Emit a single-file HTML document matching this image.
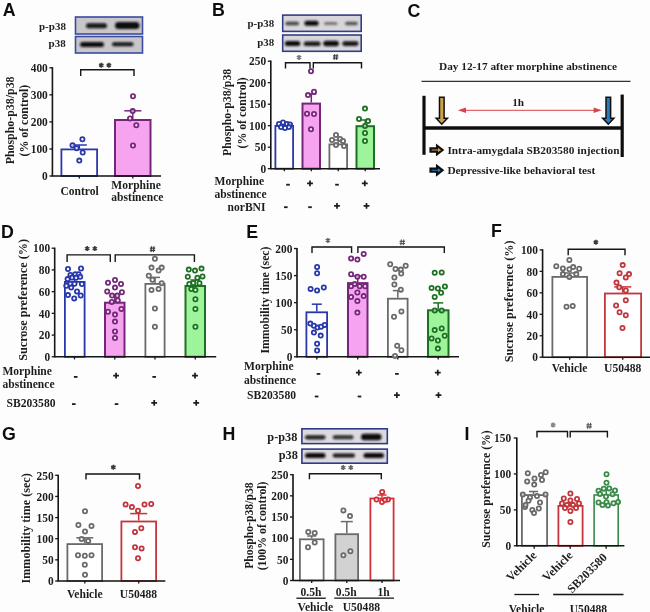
<!DOCTYPE html><html><head><meta charset="utf-8"><style>html,body{margin:0;padding:0;background:#fdfdfd;}svg{display:block;}</style></head><body>
<svg width="650" height="612" viewBox="0 0 650 612">
<defs><filter id="bl" x="-20%" y="-60%" width="140%" height="220%"><feGaussianBlur stdDeviation="1.0"/></filter><filter id="bl2"><feGaussianBlur stdDeviation="0.5"/></filter></defs>
<rect width="650" height="612" fill="#fdfdfd"/>
<g filter="url(#bl2)">
<text x="2.7" y="16.4" font-size="17.8" text-anchor="start" style="font-family:'Liberation Sans',sans-serif;font-weight:bold" fill="#111">A</text>
<rect x="75.5" y="17" width="67.0" height="17" fill="#c9c6ca" stroke="#3a4aa0" stroke-width="1.6"/>
<rect x="86" y="23.2" width="21" height="5" rx="2.5" fill="#0a0a0a" fill-opacity="0.95" filter="url(#bl)"/>
<rect x="115" y="21.9" width="24.5" height="7" rx="3.5" fill="#0a0a0a" fill-opacity="1" filter="url(#bl)"/>
<rect x="75.5" y="36.5" width="67.0" height="16.5" fill="#c9c6ca" stroke="#3a4aa0" stroke-width="1.6"/>
<rect x="80" y="42.1" width="24" height="5" rx="2.5" fill="#0a0a0a" fill-opacity="1" filter="url(#bl)"/>
<rect x="112" y="42.2" width="21.5" height="4" rx="2.0" fill="#0a0a0a" fill-opacity="0.95" filter="url(#bl)"/>
<text x="65.9" y="30" font-size="11.0" text-anchor="end" style="font-family:'Liberation Serif',serif;font-weight:bold" fill="#1e1e1e">p-p38</text>
<text x="65.7" y="47.4" font-size="11.0" text-anchor="end" style="font-family:'Liberation Serif',serif;font-weight:bold" fill="#1e1e1e">p38</text>
<line x1="52.4" y1="67.2" x2="52.4" y2="176.6" stroke="#141414" stroke-width="1.6"/>
<line x1="49.4" y1="176.0" x2="52.4" y2="176.0" stroke="#141414" stroke-width="1.3"/>
<text x="0" y="0" font-size="11.4" text-anchor="end" style="font-family:'Liberation Serif',serif;font-weight:bold" fill="#1e1e1e" transform="translate(47.8 180.28) scale(1 1.12)">0</text>
<line x1="49.4" y1="148.95" x2="52.4" y2="148.95" stroke="#141414" stroke-width="1.3"/>
<text x="0" y="0" font-size="11.4" text-anchor="end" style="font-family:'Liberation Serif',serif;font-weight:bold" fill="#1e1e1e" transform="translate(47.8 153.23) scale(1 1.12)">100</text>
<line x1="49.4" y1="121.9" x2="52.4" y2="121.9" stroke="#141414" stroke-width="1.3"/>
<text x="0" y="0" font-size="11.4" text-anchor="end" style="font-family:'Liberation Serif',serif;font-weight:bold" fill="#1e1e1e" transform="translate(47.8 126.18) scale(1 1.12)">200</text>
<line x1="49.4" y1="94.85" x2="52.4" y2="94.85" stroke="#141414" stroke-width="1.3"/>
<text x="0" y="0" font-size="11.4" text-anchor="end" style="font-family:'Liberation Serif',serif;font-weight:bold" fill="#1e1e1e" transform="translate(47.8 99.13) scale(1 1.12)">300</text>
<line x1="49.4" y1="67.8" x2="52.4" y2="67.8" stroke="#141414" stroke-width="1.3"/>
<text x="0" y="0" font-size="11.4" text-anchor="end" style="font-family:'Liberation Serif',serif;font-weight:bold" fill="#1e1e1e" transform="translate(47.8 72.08) scale(1 1.12)">400</text>
<rect x="61.4" y="149.4" width="35.7" height="26.6" fill="#fff" stroke="#2838aa" stroke-width="1.8"/>
<rect x="115.0" y="120.0" width="35.5" height="56.0" fill="#f6a3f0" stroke="#74287a" stroke-width="2"/>
<line x1="52.4" y1="176.0" x2="161" y2="176.0" stroke="#141414" stroke-width="1.6"/>
<line x1="79.3" y1="176.0" x2="79.3" y2="178.6" stroke="#141414" stroke-width="1.3"/>
<line x1="132.8" y1="176.0" x2="132.8" y2="178.6" stroke="#141414" stroke-width="1.3"/>
<line x1="79.3" y1="148.5" x2="79.3" y2="145" stroke="#2838aa" stroke-width="1.5"/>
<line x1="71.8" y1="145" x2="86.8" y2="145" stroke="#2838aa" stroke-width="1.5"/>
<line x1="132.8" y1="119" x2="132.8" y2="110.8" stroke="#74287a" stroke-width="1.5"/>
<line x1="124.30000000000001" y1="110.8" x2="141.3" y2="110.8" stroke="#74287a" stroke-width="1.5"/>
<circle cx="82.4" cy="139.2" r="2.1" fill="#fff" fill-opacity="0.6" stroke="#2838aa" stroke-width="1.8"/>
<circle cx="72.5" cy="145.3" r="2.1" fill="#fff" fill-opacity="0.6" stroke="#2838aa" stroke-width="1.8"/>
<circle cx="76.6" cy="148.2" r="2.1" fill="#fff" fill-opacity="0.6" stroke="#2838aa" stroke-width="1.8"/>
<circle cx="82.7" cy="152.5" r="2.1" fill="#fff" fill-opacity="0.6" stroke="#2838aa" stroke-width="1.8"/>
<circle cx="79.3" cy="160.6" r="2.1" fill="#fff" fill-opacity="0.6" stroke="#2838aa" stroke-width="1.8"/>
<circle cx="132.7" cy="111.1" r="2.1" fill="#fff" fill-opacity="0.6" stroke="#74287a" stroke-width="1.8"/>
<circle cx="130" cy="118.5" r="2.1" fill="#fff" fill-opacity="0.6" stroke="#74287a" stroke-width="1.8"/>
<circle cx="136.3" cy="125.2" r="2.1" fill="#fff" fill-opacity="0.6" stroke="#74287a" stroke-width="1.8"/>
<circle cx="133" cy="145.5" r="2.1" fill="#fff" fill-opacity="0.6" stroke="#74287a" stroke-width="1.8"/>
<circle cx="133" cy="96.2" r="2.1" fill="#fff" fill-opacity="0.6" stroke="#74287a" stroke-width="1.8"/>
<path d="M80.7 76 V69.8 H134 V76" fill="none" stroke="#141414" stroke-width="1.4"/>
<path d="M101.30 62.70 L101.30 67.70 M99.13 63.95 L103.47 66.45 M103.47 63.95 L99.13 66.45 " stroke="#3a3a3a" stroke-width="1.6" fill="none"/>
<path d="M108.90 62.70 L108.90 67.70 M106.73 63.95 L111.07 66.45 M111.07 63.95 L106.73 66.45 " stroke="#3a3a3a" stroke-width="1.6" fill="none"/>
<text x="14.06" y="120.4" font-size="11.9" text-anchor="middle" style="font-family:'Liberation Serif',serif;font-weight:bold" fill="#1e1e1e" transform="rotate(-90 14.06 120.4)">Phospho-p38/p38</text>
<text x="28.46" y="120.7" font-size="11.9" text-anchor="middle" style="font-family:'Liberation Serif',serif;font-weight:bold" fill="#1e1e1e" transform="rotate(-90 28.46 120.7)">(% of control)</text>
<text x="0" y="0" font-size="11.6" text-anchor="middle" style="font-family:'Liberation Serif',serif;font-weight:bold" fill="#1e1e1e" transform="translate(79.6 195) scale(1 1.12)">Control</text>
<text x="0" y="0" font-size="11.6" text-anchor="start" style="font-family:'Liberation Serif',serif;font-weight:bold" fill="#1e1e1e" transform="translate(111.3 188.5) scale(1 1.12)">Morphine</text>
<text x="0" y="0" font-size="11.6" text-anchor="start" style="font-family:'Liberation Serif',serif;font-weight:bold" fill="#1e1e1e" transform="translate(111.3 201) scale(1 1.12)">abstinence</text>
<text x="212" y="16.4" font-size="17.8" text-anchor="start" style="font-family:'Liberation Sans',sans-serif;font-weight:bold" fill="#111">B</text>
<rect x="282.7" y="15.1" width="78.5" height="16.299999999999997" fill="#d8d6da" stroke="#323e88" stroke-width="1.6"/>
<rect x="285.4" y="21.7" width="13.600000000000023" height="3.6" rx="1.8" fill="#0a0a0a" fill-opacity="0.75" filter="url(#bl)"/>
<rect x="304.4" y="20.8" width="14.200000000000045" height="5" rx="2.5" fill="#0a0a0a" fill-opacity="1" filter="url(#bl)"/>
<rect x="324" y="22.1" width="13.5" height="3" rx="1.5" fill="#0a0a0a" fill-opacity="0.45" filter="url(#bl)"/>
<rect x="345" y="21.85" width="12.800000000000011" height="3.5" rx="1.75" fill="#0a0a0a" fill-opacity="0.6" filter="url(#bl)"/>
<rect x="282.7" y="35" width="78.5" height="16.299999999999997" fill="#d8d6da" stroke="#323e88" stroke-width="1.6"/>
<rect x="284.8" y="41.1" width="15.5" height="5" rx="2.5" fill="#0a0a0a" fill-opacity="1" filter="url(#bl)"/>
<rect x="303.7" y="41.55" width="16.900000000000034" height="4.5" rx="2.25" fill="#0a0a0a" fill-opacity="0.95" filter="url(#bl)"/>
<rect x="323.3" y="40.85" width="15.599999999999966" height="5.5" rx="2.75" fill="#0a0a0a" fill-opacity="1" filter="url(#bl)"/>
<rect x="342.3" y="41.300000000000004" width="16.19999999999999" height="4.6" rx="2.3" fill="#0a0a0a" fill-opacity="0.95" filter="url(#bl)"/>
<text x="274.1" y="27.1" font-size="10.9" text-anchor="end" style="font-family:'Liberation Serif',serif;font-weight:bold" fill="#1e1e1e">p-p38</text>
<text x="274.1" y="45.5" font-size="10.9" text-anchor="end" style="font-family:'Liberation Serif',serif;font-weight:bold" fill="#1e1e1e">p38</text>
<line x1="270.8" y1="60.59999999999999" x2="270.8" y2="169.29999999999998" stroke="#141414" stroke-width="1.6"/>
<line x1="267.8" y1="168.7" x2="270.8" y2="168.7" stroke="#141414" stroke-width="1.3"/>
<text x="0" y="0" font-size="11.4" text-anchor="end" style="font-family:'Liberation Serif',serif;font-weight:bold" fill="#1e1e1e" transform="translate(266.2 172.98) scale(1 1.12)">0</text>
<line x1="267.8" y1="147.2" x2="270.8" y2="147.2" stroke="#141414" stroke-width="1.3"/>
<text x="0" y="0" font-size="11.4" text-anchor="end" style="font-family:'Liberation Serif',serif;font-weight:bold" fill="#1e1e1e" transform="translate(266.2 151.48) scale(1 1.12)">50</text>
<line x1="267.8" y1="125.69999999999999" x2="270.8" y2="125.69999999999999" stroke="#141414" stroke-width="1.3"/>
<text x="0" y="0" font-size="11.4" text-anchor="end" style="font-family:'Liberation Serif',serif;font-weight:bold" fill="#1e1e1e" transform="translate(266.2 129.98) scale(1 1.12)">100</text>
<line x1="267.8" y1="104.19999999999999" x2="270.8" y2="104.19999999999999" stroke="#141414" stroke-width="1.3"/>
<text x="0" y="0" font-size="11.4" text-anchor="end" style="font-family:'Liberation Serif',serif;font-weight:bold" fill="#1e1e1e" transform="translate(266.2 108.48) scale(1 1.12)">150</text>
<line x1="267.8" y1="82.69999999999999" x2="270.8" y2="82.69999999999999" stroke="#141414" stroke-width="1.3"/>
<text x="0" y="0" font-size="11.4" text-anchor="end" style="font-family:'Liberation Serif',serif;font-weight:bold" fill="#1e1e1e" transform="translate(266.2 86.98) scale(1 1.12)">200</text>
<line x1="267.8" y1="61.19999999999999" x2="270.8" y2="61.19999999999999" stroke="#141414" stroke-width="1.3"/>
<text x="0" y="0" font-size="11.4" text-anchor="end" style="font-family:'Liberation Serif',serif;font-weight:bold" fill="#1e1e1e" transform="translate(266.2 65.48) scale(1 1.12)">250</text>
<rect x="275.4" y="125.9" width="17.7" height="42.79999999999999" fill="#fff" stroke="#2838aa" stroke-width="1.8"/>
<rect x="302.5" y="103.6" width="17.5" height="65.1" fill="#f6a3f0" stroke="#74287a" stroke-width="2"/>
<rect x="329.4" y="144.4" width="17.7" height="24.29999999999999" fill="#fff" stroke="#6a6a6a" stroke-width="1.8"/>
<rect x="356.5" y="126.2" width="17.5" height="42.499999999999986" fill="#9ef49a" stroke="#1f7022" stroke-width="2"/>
<line x1="270.8" y1="168.7" x2="380" y2="168.7" stroke="#141414" stroke-width="1.6"/>
<line x1="284.3" y1="168.7" x2="284.3" y2="171.29999999999998" stroke="#141414" stroke-width="1.3"/>
<line x1="311.3" y1="168.7" x2="311.3" y2="171.29999999999998" stroke="#141414" stroke-width="1.3"/>
<line x1="338.2" y1="168.7" x2="338.2" y2="171.29999999999998" stroke="#141414" stroke-width="1.3"/>
<line x1="365.2" y1="168.7" x2="365.2" y2="171.29999999999998" stroke="#141414" stroke-width="1.3"/>
<line x1="311.3" y1="102.6" x2="311.3" y2="94" stroke="#74287a" stroke-width="1.5"/>
<line x1="306.3" y1="94" x2="316.3" y2="94" stroke="#74287a" stroke-width="1.5"/>
<line x1="338.2" y1="143.5" x2="338.2" y2="140" stroke="#6a6a6a" stroke-width="1.5"/>
<line x1="333.7" y1="140" x2="342.7" y2="140" stroke="#6a6a6a" stroke-width="1.5"/>
<line x1="365.2" y1="125.2" x2="365.2" y2="120" stroke="#1f7022" stroke-width="1.5"/>
<line x1="360.2" y1="120" x2="370.2" y2="120" stroke="#1f7022" stroke-width="1.5"/>
<circle cx="279" cy="124" r="2.1" fill="#fff" fill-opacity="0.6" stroke="#2838aa" stroke-width="1.8"/>
<circle cx="283" cy="122.5" r="2.1" fill="#fff" fill-opacity="0.6" stroke="#2838aa" stroke-width="1.8"/>
<circle cx="287" cy="124" r="2.1" fill="#fff" fill-opacity="0.6" stroke="#2838aa" stroke-width="1.8"/>
<circle cx="290" cy="124.5" r="2.1" fill="#fff" fill-opacity="0.6" stroke="#2838aa" stroke-width="1.8"/>
<circle cx="281" cy="127" r="2.1" fill="#fff" fill-opacity="0.6" stroke="#2838aa" stroke-width="1.8"/>
<circle cx="285" cy="128" r="2.1" fill="#fff" fill-opacity="0.6" stroke="#2838aa" stroke-width="1.8"/>
<circle cx="289" cy="127" r="2.1" fill="#fff" fill-opacity="0.6" stroke="#2838aa" stroke-width="1.8"/>
<circle cx="311" cy="71.2" r="2.1" fill="#fff" fill-opacity="0.6" stroke="#74287a" stroke-width="1.8"/>
<circle cx="308" cy="95" r="2.1" fill="#fff" fill-opacity="0.6" stroke="#74287a" stroke-width="1.8"/>
<circle cx="314" cy="91.7" r="2.1" fill="#fff" fill-opacity="0.6" stroke="#74287a" stroke-width="1.8"/>
<circle cx="307" cy="113.7" r="2.1" fill="#fff" fill-opacity="0.6" stroke="#74287a" stroke-width="1.8"/>
<circle cx="314" cy="114" r="2.1" fill="#fff" fill-opacity="0.6" stroke="#74287a" stroke-width="1.8"/>
<circle cx="311" cy="129.2" r="2.1" fill="#fff" fill-opacity="0.6" stroke="#74287a" stroke-width="1.8"/>
<circle cx="336" cy="135" r="2.1" fill="#fff" fill-opacity="0.6" stroke="#6a6a6a" stroke-width="1.8"/>
<circle cx="332" cy="140" r="2.1" fill="#fff" fill-opacity="0.6" stroke="#6a6a6a" stroke-width="1.8"/>
<circle cx="340" cy="139" r="2.1" fill="#fff" fill-opacity="0.6" stroke="#6a6a6a" stroke-width="1.8"/>
<circle cx="343" cy="141" r="2.1" fill="#fff" fill-opacity="0.6" stroke="#6a6a6a" stroke-width="1.8"/>
<circle cx="336" cy="145" r="2.1" fill="#fff" fill-opacity="0.6" stroke="#6a6a6a" stroke-width="1.8"/>
<circle cx="344" cy="146" r="2.1" fill="#fff" fill-opacity="0.6" stroke="#6a6a6a" stroke-width="1.8"/>
<circle cx="365" cy="108.6" r="2.1" fill="#fff" fill-opacity="0.6" stroke="#1f7022" stroke-width="1.8"/>
<circle cx="359" cy="119" r="2.1" fill="#fff" fill-opacity="0.6" stroke="#1f7022" stroke-width="1.8"/>
<circle cx="368" cy="121" r="2.1" fill="#fff" fill-opacity="0.6" stroke="#1f7022" stroke-width="1.8"/>
<circle cx="365" cy="126" r="2.1" fill="#fff" fill-opacity="0.6" stroke="#1f7022" stroke-width="1.8"/>
<circle cx="365" cy="133" r="2.1" fill="#fff" fill-opacity="0.6" stroke="#1f7022" stroke-width="1.8"/>
<circle cx="365" cy="141" r="2.1" fill="#fff" fill-opacity="0.6" stroke="#1f7022" stroke-width="1.8"/>
<path d="M285.5 68.5 V62.8 H310 V68.5" fill="none" stroke="#141414" stroke-width="1.4"/>
<path d="M313.3 68.5 V62.8 H361.5 V68.5" fill="none" stroke="#141414" stroke-width="1.4"/>
<path d="M299.00 54.90 L299.00 59.90 M296.83 56.15 L301.17 58.65 M301.17 56.15 L296.83 58.65 " stroke="#777" stroke-width="1.6" fill="none"/>
<path d="M334.70 54.10 L334.10 59.90 M337.10 54.10 L336.50 59.90 M332.90 55.90 H338.30 M332.90 58.10 H338.30" stroke="#444" stroke-width="1.15" fill="none"/>
<path d="M286.2 184.7 H289.8" stroke="#1a1a1a" stroke-width="1.8"/>
<path d="M307.1 183.4 H312.9 M310 180.5 V186.3" stroke="#1a1a1a" stroke-width="1.7"/>
<path d="M335.2 184.7 H338.8" stroke="#1a1a1a" stroke-width="1.8"/>
<path d="M361.90000000000003 183.4 H367.7 M364.8 180.5 V186.3" stroke="#1a1a1a" stroke-width="1.7"/>
<path d="M284.0 207.2 H287.6" stroke="#1a1a1a" stroke-width="1.8"/>
<path d="M308.2 207.2 H311.8" stroke="#1a1a1a" stroke-width="1.8"/>
<path d="M334.1 205.9 H339.9 M337 203.0 V208.8" stroke="#1a1a1a" stroke-width="1.7"/>
<path d="M363.6 205.9 H369.4 M366.5 203.0 V208.8" stroke="#1a1a1a" stroke-width="1.7"/>
<text x="231.13" y="112.4" font-size="11.8" text-anchor="middle" style="font-family:'Liberation Serif',serif;font-weight:bold" fill="#1e1e1e" transform="rotate(-90 231.13 112.4)">Phospho-p38/p38</text>
<text x="246.23" y="112.85" font-size="11.8" text-anchor="middle" style="font-family:'Liberation Serif',serif;font-weight:bold" fill="#1e1e1e" transform="rotate(-90 246.23 112.85)">(% of control)</text>
<text x="0" y="0" font-size="11.6" text-anchor="start" style="font-family:'Liberation Serif',serif;font-weight:bold" fill="#1e1e1e" transform="translate(214.5 185) scale(1 1.12)">Morphine</text>
<text x="0" y="0" font-size="11.6" text-anchor="start" style="font-family:'Liberation Serif',serif;font-weight:bold" fill="#1e1e1e" transform="translate(214.5 198) scale(1 1.12)">abstinence</text>
<text x="0" y="0" font-size="11.6" text-anchor="end" style="font-family:'Liberation Serif',serif;font-weight:bold" fill="#1e1e1e" transform="translate(265.5 210.5) scale(1 1.12)">norBNI</text>
<text x="407.6" y="16.9" font-size="17.8" text-anchor="start" style="font-family:'Liberation Sans',sans-serif;font-weight:bold" fill="#111">C</text>
<text x="528.0" y="69.6" font-size="11.3" text-anchor="middle" style="font-family:'Liberation Serif',serif;font-weight:bold" fill="#1e1e1e">Day 12-17 after morphine abstinence</text>
<line x1="421.5" y1="81.4" x2="630.5" y2="81.4" stroke="#333" stroke-width="1.1"/>
<line x1="424" y1="95.8" x2="424" y2="154.8" stroke="#111" stroke-width="3.2"/>
<line x1="622.2" y1="94.6" x2="622.2" y2="157" stroke="#111" stroke-width="3.2"/>
<line x1="424" y1="127.9" x2="622.2" y2="127.9" stroke="#111" stroke-width="3.5"/>
<path d="M439.5 97.2 H444.1 V118.3 H447.40000000000003 L441.8 124.2 L436.2 118.3 H439.5 Z" fill="#cfa24a" stroke="#111" stroke-width="1.5" stroke-linejoin="miter"/>
<path d="M606.0 97.2 H610.5999999999999 V118.3 H613.9 L608.3 124.2 L602.6999999999999 118.3 H606.0 Z" fill="#2a7bb8" stroke="#111" stroke-width="1.5" stroke-linejoin="miter"/>
<line x1="465" y1="110.3" x2="594" y2="110.3" stroke="#d8434a" stroke-width="1"/>
<path d="M457.8 110.3 L466 107.6 L466 113 Z" fill="#d8434a"/>
<path d="M601.8 110.3 L593.6 107.6 L593.6 113 Z" fill="#d8434a"/>
<text x="518.2" y="105.5" font-size="11.3" text-anchor="middle" style="font-family:'Liberation Serif',serif;font-weight:bold" fill="#1e1e1e">1h</text>
<path d="M430.5 148.4 H437.0 V145.6 L442.59999999999997 150 L437.0 154.4 V151.6 H430.5 Z" fill="#cfa24a" stroke="#0c0c0c" stroke-width="2.1" stroke-linejoin="miter"/>
<path d="M430.5 168.6 H437.0 V165.79999999999998 L442.59999999999997 170.2 L437.0 174.6 V171.79999999999998 H430.5 Z" fill="#2a7bb8" stroke="#0c0c0c" stroke-width="2.1" stroke-linejoin="miter"/>
<text x="447.4" y="153.5" font-size="11.35" text-anchor="start" style="font-family:'Liberation Serif',serif;font-weight:bold" fill="#1e1e1e">Intra-amygdala SB203580 injection</text>
<text x="447.4" y="173.6" font-size="11.35" text-anchor="start" style="font-family:'Liberation Serif',serif;font-weight:bold" fill="#1e1e1e">Depressive-like behavioral test</text>
<text x="0.9" y="237.5" font-size="17.8" text-anchor="start" style="font-family:'Liberation Sans',sans-serif;font-weight:bold" fill="#111">D</text>
<line x1="54.7" y1="247.60000000000002" x2="54.7" y2="357.40000000000003" stroke="#141414" stroke-width="1.6"/>
<line x1="51.7" y1="356.8" x2="54.7" y2="356.8" stroke="#141414" stroke-width="1.3"/>
<text x="0" y="0" font-size="11.4" text-anchor="end" style="font-family:'Liberation Serif',serif;font-weight:bold" fill="#1e1e1e" transform="translate(50.1 361.08) scale(1 1.12)">0</text>
<line x1="51.7" y1="335.08000000000004" x2="54.7" y2="335.08000000000004" stroke="#141414" stroke-width="1.3"/>
<text x="0" y="0" font-size="11.4" text-anchor="end" style="font-family:'Liberation Serif',serif;font-weight:bold" fill="#1e1e1e" transform="translate(50.1 339.36) scale(1 1.12)">20</text>
<line x1="51.7" y1="313.36" x2="54.7" y2="313.36" stroke="#141414" stroke-width="1.3"/>
<text x="0" y="0" font-size="11.4" text-anchor="end" style="font-family:'Liberation Serif',serif;font-weight:bold" fill="#1e1e1e" transform="translate(50.1 317.64) scale(1 1.12)">40</text>
<line x1="51.7" y1="291.64" x2="54.7" y2="291.64" stroke="#141414" stroke-width="1.3"/>
<text x="0" y="0" font-size="11.4" text-anchor="end" style="font-family:'Liberation Serif',serif;font-weight:bold" fill="#1e1e1e" transform="translate(50.1 295.92) scale(1 1.12)">60</text>
<line x1="51.7" y1="269.92" x2="54.7" y2="269.92" stroke="#141414" stroke-width="1.3"/>
<text x="0" y="0" font-size="11.4" text-anchor="end" style="font-family:'Liberation Serif',serif;font-weight:bold" fill="#1e1e1e" transform="translate(50.1 274.2) scale(1 1.12)">80</text>
<line x1="51.7" y1="248.20000000000002" x2="54.7" y2="248.20000000000002" stroke="#141414" stroke-width="1.3"/>
<text x="0" y="0" font-size="11.4" text-anchor="end" style="font-family:'Liberation Serif',serif;font-weight:bold" fill="#1e1e1e" transform="translate(50.1 252.48) scale(1 1.12)">100</text>
<rect x="64.9" y="281.9" width="19.7" height="74.9" fill="#fff" stroke="#2838aa" stroke-width="1.8"/>
<rect x="105.0" y="302.7" width="19.5" height="54.10000000000002" fill="#f6a3f0" stroke="#74287a" stroke-width="2"/>
<rect x="145.4" y="283.9" width="19.2" height="72.9" fill="#fff" stroke="#6a6a6a" stroke-width="1.8"/>
<rect x="185.5" y="286.0" width="19.5" height="70.80000000000001" fill="#9ef49a" stroke="#1f7022" stroke-width="2"/>
<line x1="54.7" y1="356.8" x2="216.2" y2="356.8" stroke="#141414" stroke-width="1.6"/>
<line x1="74.5" y1="356.8" x2="74.5" y2="359.40000000000003" stroke="#141414" stroke-width="1.3"/>
<line x1="114.8" y1="356.8" x2="114.8" y2="359.40000000000003" stroke="#141414" stroke-width="1.3"/>
<line x1="155" y1="356.8" x2="155" y2="359.40000000000003" stroke="#141414" stroke-width="1.3"/>
<line x1="195.3" y1="356.8" x2="195.3" y2="359.40000000000003" stroke="#141414" stroke-width="1.3"/>
<line x1="74.5" y1="281" x2="74.5" y2="276" stroke="#2838aa" stroke-width="1.5"/>
<line x1="69.5" y1="276" x2="79.5" y2="276" stroke="#2838aa" stroke-width="1.5"/>
<line x1="114.8" y1="301.7" x2="114.8" y2="295" stroke="#74287a" stroke-width="1.5"/>
<line x1="109.8" y1="295" x2="119.8" y2="295" stroke="#74287a" stroke-width="1.5"/>
<line x1="155" y1="283" x2="155" y2="277.4" stroke="#6a6a6a" stroke-width="1.5"/>
<line x1="150.0" y1="277.4" x2="160.0" y2="277.4" stroke="#6a6a6a" stroke-width="1.5"/>
<line x1="195.3" y1="285" x2="195.3" y2="280" stroke="#1f7022" stroke-width="1.5"/>
<line x1="190.3" y1="280" x2="200.3" y2="280" stroke="#1f7022" stroke-width="1.5"/>
<circle cx="68" cy="269" r="2.1" fill="#fff" fill-opacity="0.6" stroke="#2838aa" stroke-width="1.8"/>
<circle cx="81" cy="268.5" r="2.1" fill="#fff" fill-opacity="0.6" stroke="#2838aa" stroke-width="1.8"/>
<circle cx="70.4" cy="275" r="2.1" fill="#fff" fill-opacity="0.6" stroke="#2838aa" stroke-width="1.8"/>
<circle cx="75.3" cy="274.2" r="2.1" fill="#fff" fill-opacity="0.6" stroke="#2838aa" stroke-width="1.8"/>
<circle cx="78.6" cy="274.2" r="2.1" fill="#fff" fill-opacity="0.6" stroke="#2838aa" stroke-width="1.8"/>
<circle cx="67.6" cy="279.1" r="2.1" fill="#fff" fill-opacity="0.6" stroke="#2838aa" stroke-width="1.8"/>
<circle cx="72" cy="277.5" r="2.1" fill="#fff" fill-opacity="0.6" stroke="#2838aa" stroke-width="1.8"/>
<circle cx="76" cy="277.8" r="2.1" fill="#fff" fill-opacity="0.6" stroke="#2838aa" stroke-width="1.8"/>
<circle cx="80.2" cy="276.7" r="2.1" fill="#fff" fill-opacity="0.6" stroke="#2838aa" stroke-width="1.8"/>
<circle cx="70.4" cy="283.7" r="2.1" fill="#fff" fill-opacity="0.6" stroke="#2838aa" stroke-width="1.8"/>
<circle cx="74.5" cy="283.7" r="2.1" fill="#fff" fill-opacity="0.6" stroke="#2838aa" stroke-width="1.8"/>
<circle cx="81.9" cy="284" r="2.1" fill="#fff" fill-opacity="0.6" stroke="#2838aa" stroke-width="1.8"/>
<circle cx="66.3" cy="285.7" r="2.1" fill="#fff" fill-opacity="0.6" stroke="#2838aa" stroke-width="1.8"/>
<circle cx="71.2" cy="287.6" r="2.1" fill="#fff" fill-opacity="0.6" stroke="#2838aa" stroke-width="1.8"/>
<circle cx="77" cy="291.4" r="2.1" fill="#fff" fill-opacity="0.6" stroke="#2838aa" stroke-width="1.8"/>
<circle cx="68" cy="295.1" r="2.1" fill="#fff" fill-opacity="0.6" stroke="#2838aa" stroke-width="1.8"/>
<circle cx="74.2" cy="298.4" r="2.1" fill="#fff" fill-opacity="0.6" stroke="#2838aa" stroke-width="1.8"/>
<circle cx="80.7" cy="295.5" r="2.1" fill="#fff" fill-opacity="0.6" stroke="#2838aa" stroke-width="1.8"/>
<circle cx="115" cy="280" r="2.1" fill="#fff" fill-opacity="0.6" stroke="#74287a" stroke-width="1.8"/>
<circle cx="108" cy="282.7" r="2.1" fill="#fff" fill-opacity="0.6" stroke="#74287a" stroke-width="1.8"/>
<circle cx="121" cy="284" r="2.1" fill="#fff" fill-opacity="0.6" stroke="#74287a" stroke-width="1.8"/>
<circle cx="115" cy="287.6" r="2.1" fill="#fff" fill-opacity="0.6" stroke="#74287a" stroke-width="1.8"/>
<circle cx="107.2" cy="291.4" r="2.1" fill="#fff" fill-opacity="0.6" stroke="#74287a" stroke-width="1.8"/>
<circle cx="121.9" cy="292.2" r="2.1" fill="#fff" fill-opacity="0.6" stroke="#74287a" stroke-width="1.8"/>
<circle cx="112.1" cy="295.5" r="2.1" fill="#fff" fill-opacity="0.6" stroke="#74287a" stroke-width="1.8"/>
<circle cx="117.3" cy="295.5" r="2.1" fill="#fff" fill-opacity="0.6" stroke="#74287a" stroke-width="1.8"/>
<circle cx="111.8" cy="302" r="2.1" fill="#fff" fill-opacity="0.6" stroke="#74287a" stroke-width="1.8"/>
<circle cx="117.8" cy="300.4" r="2.1" fill="#fff" fill-opacity="0.6" stroke="#74287a" stroke-width="1.8"/>
<circle cx="108" cy="311.8" r="2.1" fill="#fff" fill-opacity="0.6" stroke="#74287a" stroke-width="1.8"/>
<circle cx="121.4" cy="308.9" r="2.1" fill="#fff" fill-opacity="0.6" stroke="#74287a" stroke-width="1.8"/>
<circle cx="115" cy="314.6" r="2.1" fill="#fff" fill-opacity="0.6" stroke="#74287a" stroke-width="1.8"/>
<circle cx="115" cy="321.6" r="2.1" fill="#fff" fill-opacity="0.6" stroke="#74287a" stroke-width="1.8"/>
<circle cx="115" cy="331.4" r="2.1" fill="#fff" fill-opacity="0.6" stroke="#74287a" stroke-width="1.8"/>
<circle cx="115" cy="338" r="2.1" fill="#fff" fill-opacity="0.6" stroke="#74287a" stroke-width="1.8"/>
<circle cx="154.9" cy="258.8" r="2.1" fill="#fff" fill-opacity="0.6" stroke="#6a6a6a" stroke-width="1.8"/>
<circle cx="151.5" cy="267.6" r="2.1" fill="#fff" fill-opacity="0.6" stroke="#6a6a6a" stroke-width="1.8"/>
<circle cx="158.6" cy="270.6" r="2.1" fill="#fff" fill-opacity="0.6" stroke="#6a6a6a" stroke-width="1.8"/>
<circle cx="161.7" cy="267.6" r="2.1" fill="#fff" fill-opacity="0.6" stroke="#6a6a6a" stroke-width="1.8"/>
<circle cx="148.8" cy="275.8" r="2.1" fill="#fff" fill-opacity="0.6" stroke="#6a6a6a" stroke-width="1.8"/>
<circle cx="152.5" cy="279.8" r="2.1" fill="#fff" fill-opacity="0.6" stroke="#6a6a6a" stroke-width="1.8"/>
<circle cx="161.7" cy="283.3" r="2.1" fill="#fff" fill-opacity="0.6" stroke="#6a6a6a" stroke-width="1.8"/>
<circle cx="151.5" cy="290" r="2.1" fill="#fff" fill-opacity="0.6" stroke="#6a6a6a" stroke-width="1.8"/>
<circle cx="158.6" cy="289" r="2.1" fill="#fff" fill-opacity="0.6" stroke="#6a6a6a" stroke-width="1.8"/>
<circle cx="154.9" cy="308.5" r="2.1" fill="#fff" fill-opacity="0.6" stroke="#6a6a6a" stroke-width="1.8"/>
<circle cx="154.9" cy="326.8" r="2.1" fill="#fff" fill-opacity="0.6" stroke="#6a6a6a" stroke-width="1.8"/>
<circle cx="188.8" cy="269.6" r="2.1" fill="#fff" fill-opacity="0.6" stroke="#1f7022" stroke-width="1.8"/>
<circle cx="195" cy="270.6" r="2.1" fill="#fff" fill-opacity="0.6" stroke="#1f7022" stroke-width="1.8"/>
<circle cx="201.5" cy="268.6" r="2.1" fill="#fff" fill-opacity="0.6" stroke="#1f7022" stroke-width="1.8"/>
<circle cx="187.8" cy="276.8" r="2.1" fill="#fff" fill-opacity="0.6" stroke="#1f7022" stroke-width="1.8"/>
<circle cx="197.4" cy="277.8" r="2.1" fill="#fff" fill-opacity="0.6" stroke="#1f7022" stroke-width="1.8"/>
<circle cx="202.5" cy="276.4" r="2.1" fill="#fff" fill-opacity="0.6" stroke="#1f7022" stroke-width="1.8"/>
<circle cx="189.3" cy="284" r="2.1" fill="#fff" fill-opacity="0.6" stroke="#1f7022" stroke-width="1.8"/>
<circle cx="193.3" cy="283" r="2.1" fill="#fff" fill-opacity="0.6" stroke="#1f7022" stroke-width="1.8"/>
<circle cx="199.5" cy="283.3" r="2.1" fill="#fff" fill-opacity="0.6" stroke="#1f7022" stroke-width="1.8"/>
<circle cx="191.3" cy="289" r="2.1" fill="#fff" fill-opacity="0.6" stroke="#1f7022" stroke-width="1.8"/>
<circle cx="195.4" cy="290" r="2.1" fill="#fff" fill-opacity="0.6" stroke="#1f7022" stroke-width="1.8"/>
<circle cx="195.4" cy="299.3" r="2.1" fill="#fff" fill-opacity="0.6" stroke="#1f7022" stroke-width="1.8"/>
<circle cx="195.4" cy="309" r="2.1" fill="#fff" fill-opacity="0.6" stroke="#1f7022" stroke-width="1.8"/>
<circle cx="195.4" cy="326.8" r="2.1" fill="#fff" fill-opacity="0.6" stroke="#1f7022" stroke-width="1.8"/>
<path d="M67.1 261.9 V254.9 H110.3 V261.9" fill="none" stroke="#141414" stroke-width="1.4"/>
<path d="M115.2 261.9 V254.9 H194.4 V261.9" fill="none" stroke="#141414" stroke-width="1.4"/>
<path d="M87.20 246.10 L87.20 251.10 M85.03 247.35 L89.37 249.85 M89.37 247.35 L85.03 249.85 " stroke="#3a3a3a" stroke-width="1.6" fill="none"/>
<path d="M94.80 246.10 L94.80 251.10 M92.63 247.35 L96.97 249.85 M96.97 247.35 L92.63 249.85 " stroke="#3a3a3a" stroke-width="1.6" fill="none"/>
<path d="M151.60 246.30 L151.00 252.10 M154.00 246.30 L153.40 252.10 M149.80 248.10 H155.20 M149.80 250.30 H155.20" stroke="#3a3a3a" stroke-width="1.15" fill="none"/>
<path d="M73.9 376.9 H77.5" stroke="#1a1a1a" stroke-width="1.8"/>
<path d="M113.19999999999999 375.6 H119.0 M116.1 372.70000000000005 V378.5" stroke="#1a1a1a" stroke-width="1.7"/>
<path d="M152.39999999999998 376.9 H156.0" stroke="#1a1a1a" stroke-width="1.8"/>
<path d="M192.1 375.6 H197.9 M195 372.70000000000005 V378.5" stroke="#1a1a1a" stroke-width="1.7"/>
<path d="M72.0 404.1 H75.6" stroke="#1a1a1a" stroke-width="1.8"/>
<path d="M114.7 404.1 H118.3" stroke="#1a1a1a" stroke-width="1.8"/>
<path d="M151.29999999999998 402.8 H157.1 M154.2 399.90000000000003 V405.7" stroke="#1a1a1a" stroke-width="1.7"/>
<path d="M193.29999999999998 402.8 H199.1 M196.2 399.90000000000003 V405.7" stroke="#1a1a1a" stroke-width="1.7"/>
<text x="27.23" y="299.9" font-size="12.2" text-anchor="middle" style="font-family:'Liberation Serif',serif;font-weight:bold" fill="#1e1e1e" transform="rotate(-90 27.23 299.9)">Sucrose preference (%)</text>
<text x="0" y="0" font-size="11.6" text-anchor="start" style="font-family:'Liberation Serif',serif;font-weight:bold" fill="#1e1e1e" transform="translate(2.4 374.8) scale(1 1.12)">Morphine</text>
<text x="0" y="0" font-size="11.6" text-anchor="start" style="font-family:'Liberation Serif',serif;font-weight:bold" fill="#1e1e1e" transform="translate(2.4 388) scale(1 1.12)">abstinence</text>
<text x="0" y="0" font-size="11.6" text-anchor="end" style="font-family:'Liberation Serif',serif;font-weight:bold" fill="#1e1e1e" transform="translate(55.5 407) scale(1 1.12)">SB203580</text>
<text x="246.3" y="237.6" font-size="17.8" text-anchor="start" style="font-family:'Liberation Sans',sans-serif;font-weight:bold" fill="#111">E</text>
<line x1="297" y1="247.92000000000002" x2="297" y2="357.40000000000003" stroke="#141414" stroke-width="1.6"/>
<line x1="294" y1="356.8" x2="297" y2="356.8" stroke="#141414" stroke-width="1.3"/>
<text x="0" y="0" font-size="11.4" text-anchor="end" style="font-family:'Liberation Serif',serif;font-weight:bold" fill="#1e1e1e" transform="translate(292.4 361.08) scale(1 1.12)">0</text>
<line x1="294" y1="329.73" x2="297" y2="329.73" stroke="#141414" stroke-width="1.3"/>
<text x="0" y="0" font-size="11.4" text-anchor="end" style="font-family:'Liberation Serif',serif;font-weight:bold" fill="#1e1e1e" transform="translate(292.4 334.01) scale(1 1.12)">50</text>
<line x1="294" y1="302.66" x2="297" y2="302.66" stroke="#141414" stroke-width="1.3"/>
<text x="0" y="0" font-size="11.4" text-anchor="end" style="font-family:'Liberation Serif',serif;font-weight:bold" fill="#1e1e1e" transform="translate(292.4 306.94) scale(1 1.12)">100</text>
<line x1="294" y1="275.59000000000003" x2="297" y2="275.59000000000003" stroke="#141414" stroke-width="1.3"/>
<text x="0" y="0" font-size="11.4" text-anchor="end" style="font-family:'Liberation Serif',serif;font-weight:bold" fill="#1e1e1e" transform="translate(292.4 279.87) scale(1 1.12)">150</text>
<line x1="294" y1="248.52" x2="297" y2="248.52" stroke="#141414" stroke-width="1.3"/>
<text x="0" y="0" font-size="11.4" text-anchor="end" style="font-family:'Liberation Serif',serif;font-weight:bold" fill="#1e1e1e" transform="translate(292.4 252.8) scale(1 1.12)">200</text>
<rect x="306.4" y="312.29999999999995" width="20.7" height="44.500000000000036" fill="#fff" stroke="#2838aa" stroke-width="1.8"/>
<rect x="348.0" y="283.1" width="19.5" height="73.69999999999999" fill="#f6a3f0" stroke="#74287a" stroke-width="2"/>
<rect x="387.9" y="298.7" width="19.7" height="58.1" fill="#fff" stroke="#6a6a6a" stroke-width="1.8"/>
<rect x="428.0" y="310.3" width="20.5" height="46.5" fill="#9ef49a" stroke="#1f7022" stroke-width="2"/>
<line x1="297" y1="356.8" x2="459" y2="356.8" stroke="#141414" stroke-width="1.6"/>
<line x1="316.8" y1="356.8" x2="316.8" y2="359.40000000000003" stroke="#141414" stroke-width="1.3"/>
<line x1="357.7" y1="356.8" x2="357.7" y2="359.40000000000003" stroke="#141414" stroke-width="1.3"/>
<line x1="397.8" y1="356.8" x2="397.8" y2="359.40000000000003" stroke="#141414" stroke-width="1.3"/>
<line x1="438.2" y1="356.8" x2="438.2" y2="359.40000000000003" stroke="#141414" stroke-width="1.3"/>
<line x1="316.8" y1="311.4" x2="316.8" y2="304.2" stroke="#2838aa" stroke-width="1.5"/>
<line x1="311.8" y1="304.2" x2="321.8" y2="304.2" stroke="#2838aa" stroke-width="1.5"/>
<line x1="357.7" y1="282.1" x2="357.7" y2="276" stroke="#74287a" stroke-width="1.5"/>
<line x1="352.7" y1="276" x2="362.7" y2="276" stroke="#74287a" stroke-width="1.5"/>
<line x1="397.8" y1="297.8" x2="397.8" y2="290.6" stroke="#6a6a6a" stroke-width="1.5"/>
<line x1="392.8" y1="290.6" x2="402.8" y2="290.6" stroke="#6a6a6a" stroke-width="1.5"/>
<line x1="438.2" y1="309.3" x2="438.2" y2="302.9" stroke="#1f7022" stroke-width="1.5"/>
<line x1="433.2" y1="302.9" x2="443.2" y2="302.9" stroke="#1f7022" stroke-width="1.5"/>
<circle cx="317.1" cy="267" r="2.1" fill="#fff" fill-opacity="0.6" stroke="#2838aa" stroke-width="1.8"/>
<circle cx="317.1" cy="273.3" r="2.1" fill="#fff" fill-opacity="0.6" stroke="#2838aa" stroke-width="1.8"/>
<circle cx="310.6" cy="288.9" r="2.1" fill="#fff" fill-opacity="0.6" stroke="#2838aa" stroke-width="1.8"/>
<circle cx="317.1" cy="290.4" r="2.1" fill="#fff" fill-opacity="0.6" stroke="#2838aa" stroke-width="1.8"/>
<circle cx="323.8" cy="287.5" r="2.1" fill="#fff" fill-opacity="0.6" stroke="#2838aa" stroke-width="1.8"/>
<circle cx="310.3" cy="323.6" r="2.1" fill="#fff" fill-opacity="0.6" stroke="#2838aa" stroke-width="1.8"/>
<circle cx="313.9" cy="325.8" r="2.1" fill="#fff" fill-opacity="0.6" stroke="#2838aa" stroke-width="1.8"/>
<circle cx="317.5" cy="327.6" r="2.1" fill="#fff" fill-opacity="0.6" stroke="#2838aa" stroke-width="1.8"/>
<circle cx="321" cy="326.7" r="2.1" fill="#fff" fill-opacity="0.6" stroke="#2838aa" stroke-width="1.8"/>
<circle cx="324.7" cy="324.9" r="2.1" fill="#fff" fill-opacity="0.6" stroke="#2838aa" stroke-width="1.8"/>
<circle cx="313.9" cy="332.6" r="2.1" fill="#fff" fill-opacity="0.6" stroke="#2838aa" stroke-width="1.8"/>
<circle cx="320.7" cy="335.6" r="2.1" fill="#fff" fill-opacity="0.6" stroke="#2838aa" stroke-width="1.8"/>
<circle cx="317.1" cy="343.7" r="2.1" fill="#fff" fill-opacity="0.6" stroke="#2838aa" stroke-width="1.8"/>
<circle cx="317.1" cy="350.5" r="2.1" fill="#fff" fill-opacity="0.6" stroke="#2838aa" stroke-width="1.8"/>
<circle cx="363.7" cy="253.9" r="2.1" fill="#fff" fill-opacity="0.6" stroke="#74287a" stroke-width="1.8"/>
<circle cx="351.1" cy="258.4" r="2.1" fill="#fff" fill-opacity="0.6" stroke="#74287a" stroke-width="1.8"/>
<circle cx="357.4" cy="259.6" r="2.1" fill="#fff" fill-opacity="0.6" stroke="#74287a" stroke-width="1.8"/>
<circle cx="351.1" cy="274.2" r="2.1" fill="#fff" fill-opacity="0.6" stroke="#74287a" stroke-width="1.8"/>
<circle cx="357.4" cy="276.7" r="2.1" fill="#fff" fill-opacity="0.6" stroke="#74287a" stroke-width="1.8"/>
<circle cx="363.7" cy="276.7" r="2.1" fill="#fff" fill-opacity="0.6" stroke="#74287a" stroke-width="1.8"/>
<circle cx="351.1" cy="286.2" r="2.1" fill="#fff" fill-opacity="0.6" stroke="#74287a" stroke-width="1.8"/>
<circle cx="354.7" cy="283.9" r="2.1" fill="#fff" fill-opacity="0.6" stroke="#74287a" stroke-width="1.8"/>
<circle cx="359.7" cy="286.2" r="2.1" fill="#fff" fill-opacity="0.6" stroke="#74287a" stroke-width="1.8"/>
<circle cx="365.1" cy="286.2" r="2.1" fill="#fff" fill-opacity="0.6" stroke="#74287a" stroke-width="1.8"/>
<circle cx="357.4" cy="292.5" r="2.1" fill="#fff" fill-opacity="0.6" stroke="#74287a" stroke-width="1.8"/>
<circle cx="351.1" cy="297" r="2.1" fill="#fff" fill-opacity="0.6" stroke="#74287a" stroke-width="1.8"/>
<circle cx="363.7" cy="296.1" r="2.1" fill="#fff" fill-opacity="0.6" stroke="#74287a" stroke-width="1.8"/>
<circle cx="357.4" cy="301.1" r="2.1" fill="#fff" fill-opacity="0.6" stroke="#74287a" stroke-width="1.8"/>
<circle cx="357.4" cy="312.6" r="2.1" fill="#fff" fill-opacity="0.6" stroke="#74287a" stroke-width="1.8"/>
<circle cx="390.2" cy="264.3" r="2.1" fill="#fff" fill-opacity="0.6" stroke="#6a6a6a" stroke-width="1.8"/>
<circle cx="395.5" cy="269" r="2.1" fill="#fff" fill-opacity="0.6" stroke="#6a6a6a" stroke-width="1.8"/>
<circle cx="400.8" cy="269.6" r="2.1" fill="#fff" fill-opacity="0.6" stroke="#6a6a6a" stroke-width="1.8"/>
<circle cx="405.7" cy="265.8" r="2.1" fill="#fff" fill-opacity="0.6" stroke="#6a6a6a" stroke-width="1.8"/>
<circle cx="401.2" cy="273.6" r="2.1" fill="#fff" fill-opacity="0.6" stroke="#6a6a6a" stroke-width="1.8"/>
<circle cx="394.4" cy="277.5" r="2.1" fill="#fff" fill-opacity="0.6" stroke="#6a6a6a" stroke-width="1.8"/>
<circle cx="394.4" cy="284.5" r="2.1" fill="#fff" fill-opacity="0.6" stroke="#6a6a6a" stroke-width="1.8"/>
<circle cx="400.8" cy="289.8" r="2.1" fill="#fff" fill-opacity="0.6" stroke="#6a6a6a" stroke-width="1.8"/>
<circle cx="401.4" cy="311.4" r="2.1" fill="#fff" fill-opacity="0.6" stroke="#6a6a6a" stroke-width="1.8"/>
<circle cx="394" cy="316.7" r="2.1" fill="#fff" fill-opacity="0.6" stroke="#6a6a6a" stroke-width="1.8"/>
<circle cx="397.2" cy="345.8" r="2.1" fill="#fff" fill-opacity="0.6" stroke="#6a6a6a" stroke-width="1.8"/>
<circle cx="401.4" cy="350.3" r="2.1" fill="#fff" fill-opacity="0.6" stroke="#6a6a6a" stroke-width="1.8"/>
<circle cx="395" cy="356" r="2.1" fill="#fff" fill-opacity="0.6" stroke="#6a6a6a" stroke-width="1.8"/>
<circle cx="434.7" cy="272.8" r="2.1" fill="#fff" fill-opacity="0.6" stroke="#1f7022" stroke-width="1.8"/>
<circle cx="441.7" cy="272.4" r="2.1" fill="#fff" fill-opacity="0.6" stroke="#1f7022" stroke-width="1.8"/>
<circle cx="431.6" cy="288" r="2.1" fill="#fff" fill-opacity="0.6" stroke="#1f7022" stroke-width="1.8"/>
<circle cx="437.9" cy="288.5" r="2.1" fill="#fff" fill-opacity="0.6" stroke="#1f7022" stroke-width="1.8"/>
<circle cx="444.9" cy="286.4" r="2.1" fill="#fff" fill-opacity="0.6" stroke="#1f7022" stroke-width="1.8"/>
<circle cx="441.1" cy="292.7" r="2.1" fill="#fff" fill-opacity="0.6" stroke="#1f7022" stroke-width="1.8"/>
<circle cx="434.7" cy="297" r="2.1" fill="#fff" fill-opacity="0.6" stroke="#1f7022" stroke-width="1.8"/>
<circle cx="434.7" cy="310.4" r="2.1" fill="#fff" fill-opacity="0.6" stroke="#1f7022" stroke-width="1.8"/>
<circle cx="441.7" cy="310.4" r="2.1" fill="#fff" fill-opacity="0.6" stroke="#1f7022" stroke-width="1.8"/>
<circle cx="434.7" cy="330.1" r="2.1" fill="#fff" fill-opacity="0.6" stroke="#1f7022" stroke-width="1.8"/>
<circle cx="441.7" cy="328.4" r="2.1" fill="#fff" fill-opacity="0.6" stroke="#1f7022" stroke-width="1.8"/>
<circle cx="431.6" cy="338.4" r="2.1" fill="#fff" fill-opacity="0.6" stroke="#1f7022" stroke-width="1.8"/>
<circle cx="444.7" cy="335.8" r="2.1" fill="#fff" fill-opacity="0.6" stroke="#1f7022" stroke-width="1.8"/>
<circle cx="437.9" cy="340.5" r="2.1" fill="#fff" fill-opacity="0.6" stroke="#1f7022" stroke-width="1.8"/>
<circle cx="437.9" cy="348.6" r="2.1" fill="#fff" fill-opacity="0.6" stroke="#1f7022" stroke-width="1.8"/>
<path d="M312 253 V247 H351.6 V253" fill="none" stroke="#141414" stroke-width="1.4"/>
<path d="M357.9 253 V247 H444.3 V253" fill="none" stroke="#141414" stroke-width="1.4"/>
<path d="M327.90 237.90 L327.90 242.90 M325.73 239.15 L330.07 241.65 M330.07 239.15 L325.73 241.65 " stroke="#666" stroke-width="1.6" fill="none"/>
<path d="M401.40 239.50 L400.80 245.30 M403.80 239.50 L403.20 245.30 M399.60 241.30 H405.00 M399.60 243.50 H405.00" stroke="#555" stroke-width="1.15" fill="none"/>
<path d="M316.7 373.9 H320.3" stroke="#1a1a1a" stroke-width="1.8"/>
<path d="M355.90000000000003 372.6 H361.7 M358.8 369.70000000000005 V375.5" stroke="#1a1a1a" stroke-width="1.7"/>
<path d="M395.09999999999997 373.9 H398.7" stroke="#1a1a1a" stroke-width="1.8"/>
<path d="M434.90000000000003 372.6 H440.7 M437.8 369.70000000000005 V375.5" stroke="#1a1a1a" stroke-width="1.7"/>
<path d="M314.8 396.5 H318.40000000000003" stroke="#1a1a1a" stroke-width="1.8"/>
<path d="M357.7 396.5 H361.3" stroke="#1a1a1a" stroke-width="1.8"/>
<path d="M394.0 395.2 H399.79999999999995 M396.9 392.3 V398.09999999999997" stroke="#1a1a1a" stroke-width="1.7"/>
<path d="M435.6 395.2 H441.4 M438.5 392.3 V398.09999999999997" stroke="#1a1a1a" stroke-width="1.7"/>
<text x="269.12" y="300" font-size="11.75" text-anchor="middle" style="font-family:'Liberation Serif',serif;font-weight:bold" fill="#1e1e1e" transform="rotate(-90 269.12 300)">Immobility time (sec)</text>
<text x="0" y="0" font-size="11.6" text-anchor="start" style="font-family:'Liberation Serif',serif;font-weight:bold" fill="#1e1e1e" transform="translate(244 370) scale(1 1.12)">Morphine</text>
<text x="0" y="0" font-size="11.6" text-anchor="start" style="font-family:'Liberation Serif',serif;font-weight:bold" fill="#1e1e1e" transform="translate(244 383.5) scale(1 1.12)">abstinence</text>
<text x="0" y="0" font-size="11.6" text-anchor="end" style="font-family:'Liberation Serif',serif;font-weight:bold" fill="#1e1e1e" transform="translate(296 399) scale(1 1.12)">SB203580</text>
<text x="491.1" y="237.4" font-size="17.8" text-anchor="start" style="font-family:'Liberation Sans',sans-serif;font-weight:bold" fill="#111">F</text>
<line x1="542.6" y1="249.29999999999998" x2="542.6" y2="357.8" stroke="#141414" stroke-width="1.6"/>
<line x1="539.6" y1="357.2" x2="542.6" y2="357.2" stroke="#141414" stroke-width="1.3"/>
<text x="0" y="0" font-size="11.4" text-anchor="end" style="font-family:'Liberation Serif',serif;font-weight:bold" fill="#1e1e1e" transform="translate(538.0 361.48) scale(1 1.12)">0</text>
<line x1="539.6" y1="335.74" x2="542.6" y2="335.74" stroke="#141414" stroke-width="1.3"/>
<text x="0" y="0" font-size="11.4" text-anchor="end" style="font-family:'Liberation Serif',serif;font-weight:bold" fill="#1e1e1e" transform="translate(538.0 340.02) scale(1 1.12)">20</text>
<line x1="539.6" y1="314.28" x2="542.6" y2="314.28" stroke="#141414" stroke-width="1.3"/>
<text x="0" y="0" font-size="11.4" text-anchor="end" style="font-family:'Liberation Serif',serif;font-weight:bold" fill="#1e1e1e" transform="translate(538.0 318.56) scale(1 1.12)">40</text>
<line x1="539.6" y1="292.82" x2="542.6" y2="292.82" stroke="#141414" stroke-width="1.3"/>
<text x="0" y="0" font-size="11.4" text-anchor="end" style="font-family:'Liberation Serif',serif;font-weight:bold" fill="#1e1e1e" transform="translate(538.0 297.1) scale(1 1.12)">60</text>
<line x1="539.6" y1="271.36" x2="542.6" y2="271.36" stroke="#141414" stroke-width="1.3"/>
<text x="0" y="0" font-size="11.4" text-anchor="end" style="font-family:'Liberation Serif',serif;font-weight:bold" fill="#1e1e1e" transform="translate(538.0 275.64) scale(1 1.12)">80</text>
<line x1="539.6" y1="249.89999999999998" x2="542.6" y2="249.89999999999998" stroke="#141414" stroke-width="1.3"/>
<text x="0" y="0" font-size="11.4" text-anchor="end" style="font-family:'Liberation Serif',serif;font-weight:bold" fill="#1e1e1e" transform="translate(538.0 254.18) scale(1 1.12)">100</text>
<rect x="552.4" y="276.9" width="34.7" height="80.29999999999998" fill="#fff" stroke="#6a6a6a" stroke-width="1.8"/>
<rect x="604.9" y="293.5" width="36.2" height="63.69999999999997" fill="#fff" stroke="#c2363e" stroke-width="1.8"/>
<line x1="542.6" y1="357.2" x2="650" y2="357.2" stroke="#141414" stroke-width="1.6"/>
<line x1="569.7" y1="357.2" x2="569.7" y2="359.8" stroke="#141414" stroke-width="1.3"/>
<line x1="622.7" y1="357.2" x2="622.7" y2="359.8" stroke="#141414" stroke-width="1.3"/>
<line x1="569.7" y1="276" x2="569.7" y2="273" stroke="#6a6a6a" stroke-width="1.5"/>
<line x1="562.7" y1="273" x2="576.7" y2="273" stroke="#6a6a6a" stroke-width="1.5"/>
<line x1="622.7" y1="292.6" x2="622.7" y2="286.9" stroke="#c2363e" stroke-width="1.5"/>
<line x1="614.2" y1="286.9" x2="631.2" y2="286.9" stroke="#c2363e" stroke-width="1.5"/>
<circle cx="569.4" cy="259.9" r="2.1" fill="#fff" fill-opacity="0.6" stroke="#6a6a6a" stroke-width="1.8"/>
<circle cx="556.3" cy="266.3" r="2.1" fill="#fff" fill-opacity="0.6" stroke="#6a6a6a" stroke-width="1.8"/>
<circle cx="562.9" cy="268.4" r="2.1" fill="#fff" fill-opacity="0.6" stroke="#6a6a6a" stroke-width="1.8"/>
<circle cx="569.4" cy="269.2" r="2.1" fill="#fff" fill-opacity="0.6" stroke="#6a6a6a" stroke-width="1.8"/>
<circle cx="573.2" cy="267.1" r="2.1" fill="#fff" fill-opacity="0.6" stroke="#6a6a6a" stroke-width="1.8"/>
<circle cx="579.2" cy="268.7" r="2.1" fill="#fff" fill-opacity="0.6" stroke="#6a6a6a" stroke-width="1.8"/>
<circle cx="562.9" cy="274.1" r="2.1" fill="#fff" fill-opacity="0.6" stroke="#6a6a6a" stroke-width="1.8"/>
<circle cx="569.4" cy="276.9" r="2.1" fill="#fff" fill-opacity="0.6" stroke="#6a6a6a" stroke-width="1.8"/>
<circle cx="576.3" cy="274.1" r="2.1" fill="#fff" fill-opacity="0.6" stroke="#6a6a6a" stroke-width="1.8"/>
<circle cx="566.5" cy="306.8" r="2.1" fill="#fff" fill-opacity="0.6" stroke="#6a6a6a" stroke-width="1.8"/>
<circle cx="572.7" cy="306" r="2.1" fill="#fff" fill-opacity="0.6" stroke="#6a6a6a" stroke-width="1.8"/>
<circle cx="622.7" cy="265.1" r="2.1" fill="#fff" fill-opacity="0.6" stroke="#c2363e" stroke-width="1.8"/>
<circle cx="619.6" cy="273.3" r="2.1" fill="#fff" fill-opacity="0.6" stroke="#c2363e" stroke-width="1.8"/>
<circle cx="629" cy="274.1" r="2.1" fill="#fff" fill-opacity="0.6" stroke="#c2363e" stroke-width="1.8"/>
<circle cx="625.8" cy="277.4" r="2.1" fill="#fff" fill-opacity="0.6" stroke="#c2363e" stroke-width="1.8"/>
<circle cx="616.5" cy="282.6" r="2.1" fill="#fff" fill-opacity="0.6" stroke="#c2363e" stroke-width="1.8"/>
<circle cx="619.2" cy="287.2" r="2.1" fill="#fff" fill-opacity="0.6" stroke="#c2363e" stroke-width="1.8"/>
<circle cx="625.8" cy="290.5" r="2.1" fill="#fff" fill-opacity="0.6" stroke="#c2363e" stroke-width="1.8"/>
<circle cx="625.8" cy="300.3" r="2.1" fill="#fff" fill-opacity="0.6" stroke="#c2363e" stroke-width="1.8"/>
<circle cx="616.1" cy="305.5" r="2.1" fill="#fff" fill-opacity="0.6" stroke="#c2363e" stroke-width="1.8"/>
<circle cx="619.6" cy="312.2" r="2.1" fill="#fff" fill-opacity="0.6" stroke="#c2363e" stroke-width="1.8"/>
<circle cx="625.8" cy="315.3" r="2.1" fill="#fff" fill-opacity="0.6" stroke="#c2363e" stroke-width="1.8"/>
<circle cx="622.5" cy="328" r="2.1" fill="#fff" fill-opacity="0.6" stroke="#c2363e" stroke-width="1.8"/>
<path d="M568.2 255.3 V249.3 H625 V255.3" fill="none" stroke="#141414" stroke-width="1.4"/>
<path d="M595.90 239.80 L595.90 244.80 M593.73 241.05 L598.07 243.55 M598.07 241.05 L593.73 243.55 " stroke="#3a3a3a" stroke-width="1.6" fill="none"/>
<text x="513.33" y="301.4" font-size="12.2" text-anchor="middle" style="font-family:'Liberation Serif',serif;font-weight:bold" fill="#1e1e1e" transform="rotate(-90 513.33 301.4)">Sucrose preference (%)</text>
<text x="0" y="0" font-size="11.6" text-anchor="middle" style="font-family:'Liberation Serif',serif;font-weight:bold" fill="#1e1e1e" transform="translate(569.6 371.7) scale(1 1.12)">Vehicle</text>
<text x="0" y="0" font-size="11.6" text-anchor="middle" style="font-family:'Liberation Serif',serif;font-weight:bold" fill="#1e1e1e" transform="translate(622.7 371.7) scale(1 1.12)">U50488</text>
<text x="1.9" y="440.2" font-size="17.8" text-anchor="start" style="font-family:'Liberation Sans',sans-serif;font-weight:bold" fill="#111">G</text>
<line x1="58.2" y1="474.7" x2="58.2" y2="581.6" stroke="#141414" stroke-width="1.6"/>
<line x1="55.2" y1="581.0" x2="58.2" y2="581.0" stroke="#141414" stroke-width="1.3"/>
<text x="0" y="0" font-size="11.4" text-anchor="end" style="font-family:'Liberation Serif',serif;font-weight:bold" fill="#1e1e1e" transform="translate(53.6 585.28) scale(1 1.12)">0</text>
<line x1="55.2" y1="559.86" x2="58.2" y2="559.86" stroke="#141414" stroke-width="1.3"/>
<text x="0" y="0" font-size="11.4" text-anchor="end" style="font-family:'Liberation Serif',serif;font-weight:bold" fill="#1e1e1e" transform="translate(53.6 564.14) scale(1 1.12)">50</text>
<line x1="55.2" y1="538.72" x2="58.2" y2="538.72" stroke="#141414" stroke-width="1.3"/>
<text x="0" y="0" font-size="11.4" text-anchor="end" style="font-family:'Liberation Serif',serif;font-weight:bold" fill="#1e1e1e" transform="translate(53.6 543.0) scale(1 1.12)">100</text>
<line x1="55.2" y1="517.58" x2="58.2" y2="517.58" stroke="#141414" stroke-width="1.3"/>
<text x="0" y="0" font-size="11.4" text-anchor="end" style="font-family:'Liberation Serif',serif;font-weight:bold" fill="#1e1e1e" transform="translate(53.6 521.86) scale(1 1.12)">150</text>
<line x1="55.2" y1="496.44" x2="58.2" y2="496.44" stroke="#141414" stroke-width="1.3"/>
<text x="0" y="0" font-size="11.4" text-anchor="end" style="font-family:'Liberation Serif',serif;font-weight:bold" fill="#1e1e1e" transform="translate(53.6 500.72) scale(1 1.12)">200</text>
<line x1="55.2" y1="475.3" x2="58.2" y2="475.3" stroke="#141414" stroke-width="1.3"/>
<text x="0" y="0" font-size="11.4" text-anchor="end" style="font-family:'Liberation Serif',serif;font-weight:bold" fill="#1e1e1e" transform="translate(53.6 479.58) scale(1 1.12)">250</text>
<rect x="67.4" y="544.1" width="34.7" height="36.899999999999956" fill="#fff" stroke="#6a6a6a" stroke-width="1.8"/>
<rect x="121.4" y="521.5" width="34.7" height="59.49999999999998" fill="#fff" stroke="#c2363e" stroke-width="1.8"/>
<line x1="58.2" y1="581" x2="165.3" y2="581" stroke="#141414" stroke-width="1.6"/>
<line x1="84.8" y1="581" x2="84.8" y2="583.6" stroke="#141414" stroke-width="1.3"/>
<line x1="138.7" y1="581" x2="138.7" y2="583.6" stroke="#141414" stroke-width="1.3"/>
<line x1="84.8" y1="543.2" x2="84.8" y2="537.8" stroke="#6a6a6a" stroke-width="1.5"/>
<line x1="76.3" y1="537.8" x2="93.3" y2="537.8" stroke="#6a6a6a" stroke-width="1.5"/>
<line x1="138.7" y1="520.6" x2="138.7" y2="513.6" stroke="#c2363e" stroke-width="1.5"/>
<line x1="130.2" y1="513.6" x2="147.2" y2="513.6" stroke="#c2363e" stroke-width="1.5"/>
<circle cx="85" cy="511.2" r="2.1" fill="#fff" fill-opacity="0.6" stroke="#6a6a6a" stroke-width="1.8"/>
<circle cx="78.4" cy="525" r="2.1" fill="#fff" fill-opacity="0.6" stroke="#6a6a6a" stroke-width="1.8"/>
<circle cx="91.5" cy="526" r="2.1" fill="#fff" fill-opacity="0.6" stroke="#6a6a6a" stroke-width="1.8"/>
<circle cx="85" cy="531.4" r="2.1" fill="#fff" fill-opacity="0.6" stroke="#6a6a6a" stroke-width="1.8"/>
<circle cx="81.6" cy="539" r="2.1" fill="#fff" fill-opacity="0.6" stroke="#6a6a6a" stroke-width="1.8"/>
<circle cx="88.2" cy="540.9" r="2.1" fill="#fff" fill-opacity="0.6" stroke="#6a6a6a" stroke-width="1.8"/>
<circle cx="78" cy="555.3" r="2.1" fill="#fff" fill-opacity="0.6" stroke="#6a6a6a" stroke-width="1.8"/>
<circle cx="84.8" cy="555.8" r="2.1" fill="#fff" fill-opacity="0.6" stroke="#6a6a6a" stroke-width="1.8"/>
<circle cx="91.5" cy="555.3" r="2.1" fill="#fff" fill-opacity="0.6" stroke="#6a6a6a" stroke-width="1.8"/>
<circle cx="84.8" cy="564.8" r="2.1" fill="#fff" fill-opacity="0.6" stroke="#6a6a6a" stroke-width="1.8"/>
<circle cx="85" cy="574.8" r="2.1" fill="#fff" fill-opacity="0.6" stroke="#6a6a6a" stroke-width="1.8"/>
<circle cx="138" cy="486" r="2.1" fill="#fff" fill-opacity="0.6" stroke="#c2363e" stroke-width="1.8"/>
<circle cx="125.6" cy="504.4" r="2.1" fill="#fff" fill-opacity="0.6" stroke="#c2363e" stroke-width="1.8"/>
<circle cx="131.9" cy="507.1" r="2.1" fill="#fff" fill-opacity="0.6" stroke="#c2363e" stroke-width="1.8"/>
<circle cx="144.5" cy="504.4" r="2.1" fill="#fff" fill-opacity="0.6" stroke="#c2363e" stroke-width="1.8"/>
<circle cx="151.2" cy="504" r="2.1" fill="#fff" fill-opacity="0.6" stroke="#c2363e" stroke-width="1.8"/>
<circle cx="138" cy="510.7" r="2.1" fill="#fff" fill-opacity="0.6" stroke="#c2363e" stroke-width="1.8"/>
<circle cx="141.3" cy="528.3" r="2.1" fill="#fff" fill-opacity="0.6" stroke="#c2363e" stroke-width="1.8"/>
<circle cx="135" cy="531.9" r="2.1" fill="#fff" fill-opacity="0.6" stroke="#c2363e" stroke-width="1.8"/>
<circle cx="135" cy="547.2" r="2.1" fill="#fff" fill-opacity="0.6" stroke="#c2363e" stroke-width="1.8"/>
<circle cx="141.6" cy="548.4" r="2.1" fill="#fff" fill-opacity="0.6" stroke="#c2363e" stroke-width="1.8"/>
<circle cx="138" cy="558.3" r="2.1" fill="#fff" fill-opacity="0.6" stroke="#c2363e" stroke-width="1.8"/>
<path d="M86 479.4 V474 H139.5 V479.4" fill="none" stroke="#141414" stroke-width="1.4"/>
<path d="M113.40 464.70 L113.40 469.70 M111.23 465.95 L115.57 468.45 M115.57 465.95 L111.23 468.45 " stroke="#3a3a3a" stroke-width="1.6" fill="none"/>
<text x="29.9" y="528.4" font-size="12.1" text-anchor="middle" style="font-family:'Liberation Serif',serif;font-weight:bold" fill="#1e1e1e" transform="rotate(-90 29.9 528.4)">Immobility time (sec)</text>
<text x="0" y="0" font-size="11.6" text-anchor="middle" style="font-family:'Liberation Serif',serif;font-weight:bold" fill="#1e1e1e" transform="translate(84.8 597.5) scale(1 1.12)">Vehicle</text>
<text x="0" y="0" font-size="11.6" text-anchor="middle" style="font-family:'Liberation Serif',serif;font-weight:bold" fill="#1e1e1e" transform="translate(138.5 597.5) scale(1 1.12)">U50488</text>
<text x="222.5" y="439.7" font-size="17.8" text-anchor="start" style="font-family:'Liberation Sans',sans-serif;font-weight:bold" fill="#111">H</text>
<rect x="301.9" y="428.8" width="85.40000000000003" height="14.800000000000011" fill="#dcdade" stroke="#2e3a86" stroke-width="1.6"/>
<rect x="305" y="435.2" width="20.5" height="4.2" rx="2.1" fill="#0a0a0a" fill-opacity="0.9" filter="url(#bl)"/>
<rect x="332.7" y="435.3" width="20.80000000000001" height="4" rx="2.0" fill="#0a0a0a" fill-opacity="0.85" filter="url(#bl)"/>
<rect x="361" y="433.75" width="20.5" height="6.5" rx="3.25" fill="#0a0a0a" fill-opacity="1" filter="url(#bl)"/>
<rect x="301.9" y="449.1" width="85.40000000000003" height="14.099999999999966" fill="#dcdade" stroke="#2e3a86" stroke-width="1.6"/>
<rect x="305" y="452.9" width="20.5" height="5" rx="2.5" fill="#0a0a0a" fill-opacity="1" filter="url(#bl)"/>
<rect x="332.7" y="453.6" width="22.30000000000001" height="4" rx="2.0" fill="#0a0a0a" fill-opacity="0.95" filter="url(#bl)"/>
<rect x="363.5" y="453.1" width="20.5" height="5" rx="2.5" fill="#0a0a0a" fill-opacity="1" filter="url(#bl)"/>
<text x="0" y="0" font-size="12.3" text-anchor="end" style="font-family:'Liberation Serif',serif;font-weight:bold" fill="#1e1e1e" transform="translate(297.4 441.4) scale(1 0.94)">p-p38</text>
<text x="0" y="0" font-size="12.3" text-anchor="end" style="font-family:'Liberation Serif',serif;font-weight:bold" fill="#1e1e1e" transform="translate(297.8 459.4) scale(1 0.94)">p38</text>
<line x1="293" y1="474.09999999999997" x2="293" y2="581.1" stroke="#141414" stroke-width="1.6"/>
<line x1="290" y1="580.5" x2="293" y2="580.5" stroke="#141414" stroke-width="1.3"/>
<text x="0" y="0" font-size="11.4" text-anchor="end" style="font-family:'Liberation Serif',serif;font-weight:bold" fill="#1e1e1e" transform="translate(288.4 584.78) scale(1 1.12)">0</text>
<line x1="290" y1="559.34" x2="293" y2="559.34" stroke="#141414" stroke-width="1.3"/>
<text x="0" y="0" font-size="11.4" text-anchor="end" style="font-family:'Liberation Serif',serif;font-weight:bold" fill="#1e1e1e" transform="translate(288.4 563.62) scale(1 1.12)">50</text>
<line x1="290" y1="538.18" x2="293" y2="538.18" stroke="#141414" stroke-width="1.3"/>
<text x="0" y="0" font-size="11.4" text-anchor="end" style="font-family:'Liberation Serif',serif;font-weight:bold" fill="#1e1e1e" transform="translate(288.4 542.46) scale(1 1.12)">100</text>
<line x1="290" y1="517.02" x2="293" y2="517.02" stroke="#141414" stroke-width="1.3"/>
<text x="0" y="0" font-size="11.4" text-anchor="end" style="font-family:'Liberation Serif',serif;font-weight:bold" fill="#1e1e1e" transform="translate(288.4 521.3) scale(1 1.12)">150</text>
<line x1="290" y1="495.86" x2="293" y2="495.86" stroke="#141414" stroke-width="1.3"/>
<text x="0" y="0" font-size="11.4" text-anchor="end" style="font-family:'Liberation Serif',serif;font-weight:bold" fill="#1e1e1e" transform="translate(288.4 500.14) scale(1 1.12)">200</text>
<line x1="290" y1="474.7" x2="293" y2="474.7" stroke="#141414" stroke-width="1.3"/>
<text x="0" y="0" font-size="11.4" text-anchor="end" style="font-family:'Liberation Serif',serif;font-weight:bold" fill="#1e1e1e" transform="translate(288.4 478.98) scale(1 1.12)">250</text>
<rect x="299.9" y="539.3" width="23.7" height="41.200000000000024" fill="#fff" stroke="#6a6a6a" stroke-width="1.8"/>
<rect x="335.4" y="534.1999999999999" width="22.7" height="46.30000000000005" fill="#d2d2d2" stroke="#6a6a6a" stroke-width="1.8"/>
<rect x="370.4" y="498.5" width="23.2" height="81.99999999999997" fill="#fff" stroke="#d3303a" stroke-width="1.8"/>
<line x1="293" y1="580.5" x2="400" y2="580.5" stroke="#141414" stroke-width="1.6"/>
<line x1="311.7" y1="580.5" x2="311.7" y2="583.1" stroke="#141414" stroke-width="1.3"/>
<line x1="346.8" y1="580.5" x2="346.8" y2="583.1" stroke="#141414" stroke-width="1.3"/>
<line x1="382" y1="580.5" x2="382" y2="583.1" stroke="#141414" stroke-width="1.3"/>
<line x1="311.7" y1="538.4" x2="311.7" y2="536" stroke="#6a6a6a" stroke-width="1.5"/>
<line x1="307.2" y1="536" x2="316.2" y2="536" stroke="#6a6a6a" stroke-width="1.5"/>
<line x1="346.8" y1="533.3" x2="346.8" y2="521.6" stroke="#6a6a6a" stroke-width="1.5"/>
<line x1="340.8" y1="521.6" x2="352.8" y2="521.6" stroke="#6a6a6a" stroke-width="1.5"/>
<line x1="382" y1="497.6" x2="382" y2="495" stroke="#d3303a" stroke-width="1.5"/>
<line x1="377.5" y1="495" x2="386.5" y2="495" stroke="#d3303a" stroke-width="1.5"/>
<circle cx="308.3" cy="532" r="2.1" fill="#fff" fill-opacity="0.6" stroke="#6a6a6a" stroke-width="1.8"/>
<circle cx="314.7" cy="533" r="2.1" fill="#fff" fill-opacity="0.6" stroke="#6a6a6a" stroke-width="1.8"/>
<circle cx="314.7" cy="542.5" r="2.1" fill="#fff" fill-opacity="0.6" stroke="#6a6a6a" stroke-width="1.8"/>
<circle cx="308" cy="547.2" r="2.1" fill="#fff" fill-opacity="0.6" stroke="#6a6a6a" stroke-width="1.8"/>
<circle cx="343.4" cy="510.4" r="2.1" fill="#fff" fill-opacity="0.6" stroke="#6a6a6a" stroke-width="1.8"/>
<circle cx="350" cy="516.1" r="2.1" fill="#fff" fill-opacity="0.6" stroke="#6a6a6a" stroke-width="1.8"/>
<circle cx="350.4" cy="551.2" r="2.1" fill="#fff" fill-opacity="0.6" stroke="#6a6a6a" stroke-width="1.8"/>
<circle cx="343.4" cy="555.3" r="2.1" fill="#fff" fill-opacity="0.6" stroke="#6a6a6a" stroke-width="1.8"/>
<circle cx="382.2" cy="491.9" r="2.1" fill="#fff" fill-opacity="0.6" stroke="#d3303a" stroke-width="1.8"/>
<circle cx="376.5" cy="499.5" r="2.1" fill="#fff" fill-opacity="0.6" stroke="#d3303a" stroke-width="1.8"/>
<circle cx="382" cy="502" r="2.1" fill="#fff" fill-opacity="0.6" stroke="#d3303a" stroke-width="1.8"/>
<circle cx="388" cy="499.5" r="2.1" fill="#fff" fill-opacity="0.6" stroke="#d3303a" stroke-width="1.8"/>
<circle cx="385" cy="500" r="2.1" fill="#fff" fill-opacity="0.6" stroke="#d3303a" stroke-width="1.8"/>
<path d="M309.4 479.3 V473.8 H381.3 V479.3" fill="none" stroke="#141414" stroke-width="1.4"/>
<path d="M343.20 465.10 L343.20 470.10 M341.03 466.35 L345.37 468.85 M345.37 466.35 L341.03 468.85 " stroke="#666" stroke-width="1.6" fill="none"/>
<path d="M350.80 465.10 L350.80 470.10 M348.63 466.35 L352.97 468.85 M352.97 466.35 L348.63 468.85 " stroke="#666" stroke-width="1.6" fill="none"/>
<text x="252.81" y="525.6" font-size="11.7" text-anchor="middle" style="font-family:'Liberation Serif',serif;font-weight:bold" fill="#1e1e1e" transform="rotate(-90 252.81 525.6)">Phospho-p38/p38</text>
<text x="266.33" y="525.9" font-size="11.8" text-anchor="middle" style="font-family:'Liberation Serif',serif;font-weight:bold" fill="#1e1e1e" transform="rotate(-90 266.33 525.9)">(100% of control)</text>
<text x="0" y="0" font-size="11.6" text-anchor="middle" style="font-family:'Liberation Serif',serif;font-weight:bold" fill="#1e1e1e" transform="translate(311 596.2) scale(1 1.12)">0.5h</text>
<text x="0" y="0" font-size="11.6" text-anchor="middle" style="font-family:'Liberation Serif',serif;font-weight:bold" fill="#1e1e1e" transform="translate(346.3 596.2) scale(1 1.12)">0.5h</text>
<text x="0" y="0" font-size="11.6" text-anchor="middle" style="font-family:'Liberation Serif',serif;font-weight:bold" fill="#1e1e1e" transform="translate(383.6 596.2) scale(1 1.12)">1h</text>
<line x1="296.4" y1="598.2" x2="325.8" y2="598.2" stroke="#141414" stroke-width="1.3"/>
<line x1="334.2" y1="598.2" x2="394" y2="598.2" stroke="#141414" stroke-width="1.3"/>
<text x="0" y="0" font-size="11.6" text-anchor="middle" style="font-family:'Liberation Serif',serif;font-weight:bold" fill="#1e1e1e" transform="translate(315.4 611.3) scale(1 1.12)">Vehicle</text>
<text x="0" y="0" font-size="11.6" text-anchor="middle" style="font-family:'Liberation Serif',serif;font-weight:bold" fill="#1e1e1e" transform="translate(361.3 611.3) scale(1 1.12)">U50488</text>
<text x="464.5" y="439.7" font-size="17.8" text-anchor="start" style="font-family:'Liberation Sans',sans-serif;font-weight:bold" fill="#111">I</text>
<line x1="516.8" y1="437.40999999999997" x2="516.8" y2="546.4" stroke="#141414" stroke-width="1.6"/>
<line x1="513.8" y1="545.8" x2="516.8" y2="545.8" stroke="#141414" stroke-width="1.3"/>
<text x="0" y="0" font-size="11.4" text-anchor="end" style="font-family:'Liberation Serif',serif;font-weight:bold" fill="#1e1e1e" transform="translate(511.19999999999993 550.08) scale(1 1.12)">0</text>
<line x1="513.8" y1="509.86999999999995" x2="516.8" y2="509.86999999999995" stroke="#141414" stroke-width="1.3"/>
<text x="0" y="0" font-size="11.4" text-anchor="end" style="font-family:'Liberation Serif',serif;font-weight:bold" fill="#1e1e1e" transform="translate(511.19999999999993 514.15) scale(1 1.12)">50</text>
<line x1="513.8" y1="473.93999999999994" x2="516.8" y2="473.93999999999994" stroke="#141414" stroke-width="1.3"/>
<text x="0" y="0" font-size="11.4" text-anchor="end" style="font-family:'Liberation Serif',serif;font-weight:bold" fill="#1e1e1e" transform="translate(511.19999999999993 478.22) scale(1 1.12)">100</text>
<line x1="513.8" y1="438.01" x2="516.8" y2="438.01" stroke="#141414" stroke-width="1.3"/>
<text x="0" y="0" font-size="11.4" text-anchor="end" style="font-family:'Liberation Serif',serif;font-weight:bold" fill="#1e1e1e" transform="translate(511.19999999999993 442.29) scale(1 1.12)">150</text>
<rect x="521.9" y="495.09999999999997" width="25.2" height="50.69999999999997" fill="#fff" stroke="#6a6a6a" stroke-width="1.8"/>
<rect x="558.4" y="505.9" width="24.2" height="39.899999999999956" fill="#fff" stroke="#c2363e" stroke-width="1.8"/>
<rect x="594.0999999999999" y="495.0" width="24.100000000000044" height="50.79999999999997" fill="#fff" stroke="#3a8a48" stroke-width="1.6"/>
<line x1="516.8" y1="545.8" x2="624.4" y2="545.8" stroke="#141414" stroke-width="1.6"/>
<line x1="534.2" y1="545.8" x2="534.2" y2="548.8" stroke="#141414" stroke-width="1.3"/>
<line x1="570.2" y1="545.8" x2="570.2" y2="548.8" stroke="#141414" stroke-width="1.3"/>
<line x1="606.1" y1="545.8" x2="606.1" y2="548.8" stroke="#141414" stroke-width="1.3"/>
<line x1="533.5" y1="494.2" x2="533.5" y2="491.5" stroke="#6a6a6a" stroke-width="1.5"/>
<line x1="529.0" y1="491.5" x2="538.0" y2="491.5" stroke="#6a6a6a" stroke-width="1.5"/>
<line x1="570.4" y1="505" x2="570.4" y2="503" stroke="#c2363e" stroke-width="1.5"/>
<line x1="565.9" y1="503" x2="574.9" y2="503" stroke="#c2363e" stroke-width="1.5"/>
<line x1="606.2" y1="494.2" x2="606.2" y2="490" stroke="#3a8a48" stroke-width="1.5"/>
<line x1="601.7" y1="490" x2="610.7" y2="490" stroke="#3a8a48" stroke-width="1.5"/>
<circle cx="527.8" cy="473.3" r="2.1" fill="#fff" fill-opacity="0.6" stroke="#6a6a6a" stroke-width="1.8"/>
<circle cx="534.5" cy="478.5" r="2.1" fill="#fff" fill-opacity="0.6" stroke="#6a6a6a" stroke-width="1.8"/>
<circle cx="541" cy="475" r="2.1" fill="#fff" fill-opacity="0.6" stroke="#6a6a6a" stroke-width="1.8"/>
<circle cx="545.7" cy="472.3" r="2.1" fill="#fff" fill-opacity="0.6" stroke="#6a6a6a" stroke-width="1.8"/>
<circle cx="527.2" cy="481.4" r="2.1" fill="#fff" fill-opacity="0.6" stroke="#6a6a6a" stroke-width="1.8"/>
<circle cx="534.2" cy="484.6" r="2.1" fill="#fff" fill-opacity="0.6" stroke="#6a6a6a" stroke-width="1.8"/>
<circle cx="542" cy="480" r="2.1" fill="#fff" fill-opacity="0.6" stroke="#6a6a6a" stroke-width="1.8"/>
<circle cx="522.8" cy="494.6" r="2.1" fill="#fff" fill-opacity="0.6" stroke="#6a6a6a" stroke-width="1.8"/>
<circle cx="530" cy="497.5" r="2.1" fill="#fff" fill-opacity="0.6" stroke="#6a6a6a" stroke-width="1.8"/>
<circle cx="537" cy="496" r="2.1" fill="#fff" fill-opacity="0.6" stroke="#6a6a6a" stroke-width="1.8"/>
<circle cx="545.5" cy="494.5" r="2.1" fill="#fff" fill-opacity="0.6" stroke="#6a6a6a" stroke-width="1.8"/>
<circle cx="528.5" cy="500.8" r="2.1" fill="#fff" fill-opacity="0.6" stroke="#6a6a6a" stroke-width="1.8"/>
<circle cx="540" cy="502.5" r="2.1" fill="#fff" fill-opacity="0.6" stroke="#6a6a6a" stroke-width="1.8"/>
<circle cx="525" cy="507" r="2.1" fill="#fff" fill-opacity="0.6" stroke="#6a6a6a" stroke-width="1.8"/>
<circle cx="532.3" cy="510" r="2.1" fill="#fff" fill-opacity="0.6" stroke="#6a6a6a" stroke-width="1.8"/>
<circle cx="538.8" cy="508.5" r="2.1" fill="#fff" fill-opacity="0.6" stroke="#6a6a6a" stroke-width="1.8"/>
<circle cx="525.5" cy="505" r="2.1" fill="#fff" fill-opacity="0.6" stroke="#6a6a6a" stroke-width="1.8"/>
<circle cx="534" cy="513" r="2.1" fill="#fff" fill-opacity="0.6" stroke="#6a6a6a" stroke-width="1.8"/>
<circle cx="570.4" cy="493.5" r="2.1" fill="#fff" fill-opacity="0.6" stroke="#c2363e" stroke-width="1.8"/>
<circle cx="563.8" cy="498.5" r="2.1" fill="#fff" fill-opacity="0.6" stroke="#c2363e" stroke-width="1.8"/>
<circle cx="570.4" cy="500.4" r="2.1" fill="#fff" fill-opacity="0.6" stroke="#c2363e" stroke-width="1.8"/>
<circle cx="577" cy="499" r="2.1" fill="#fff" fill-opacity="0.6" stroke="#c2363e" stroke-width="1.8"/>
<circle cx="562" cy="503.5" r="2.1" fill="#fff" fill-opacity="0.6" stroke="#c2363e" stroke-width="1.8"/>
<circle cx="567" cy="505" r="2.1" fill="#fff" fill-opacity="0.6" stroke="#c2363e" stroke-width="1.8"/>
<circle cx="573" cy="505" r="2.1" fill="#fff" fill-opacity="0.6" stroke="#c2363e" stroke-width="1.8"/>
<circle cx="579" cy="503.5" r="2.1" fill="#fff" fill-opacity="0.6" stroke="#c2363e" stroke-width="1.8"/>
<circle cx="565" cy="508" r="2.1" fill="#fff" fill-opacity="0.6" stroke="#c2363e" stroke-width="1.8"/>
<circle cx="570.4" cy="511" r="2.1" fill="#fff" fill-opacity="0.6" stroke="#c2363e" stroke-width="1.8"/>
<circle cx="576" cy="508" r="2.1" fill="#fff" fill-opacity="0.6" stroke="#c2363e" stroke-width="1.8"/>
<circle cx="570.4" cy="522" r="2.1" fill="#fff" fill-opacity="0.6" stroke="#c2363e" stroke-width="1.8"/>
<circle cx="606.5" cy="474.3" r="2.1" fill="#fff" fill-opacity="0.6" stroke="#3a8a48" stroke-width="1.8"/>
<circle cx="606.5" cy="482.8" r="2.1" fill="#fff" fill-opacity="0.6" stroke="#3a8a48" stroke-width="1.8"/>
<circle cx="598.5" cy="490.7" r="2.1" fill="#fff" fill-opacity="0.6" stroke="#3a8a48" stroke-width="1.8"/>
<circle cx="603.8" cy="488.8" r="2.1" fill="#fff" fill-opacity="0.6" stroke="#3a8a48" stroke-width="1.8"/>
<circle cx="609.2" cy="488.4" r="2.1" fill="#fff" fill-opacity="0.6" stroke="#3a8a48" stroke-width="1.8"/>
<circle cx="615" cy="490.5" r="2.1" fill="#fff" fill-opacity="0.6" stroke="#3a8a48" stroke-width="1.8"/>
<circle cx="600" cy="494" r="2.1" fill="#fff" fill-opacity="0.6" stroke="#3a8a48" stroke-width="1.8"/>
<circle cx="606" cy="496.5" r="2.1" fill="#fff" fill-opacity="0.6" stroke="#3a8a48" stroke-width="1.8"/>
<circle cx="612.5" cy="494.2" r="2.1" fill="#fff" fill-opacity="0.6" stroke="#3a8a48" stroke-width="1.8"/>
<circle cx="606.5" cy="502.2" r="2.1" fill="#fff" fill-opacity="0.6" stroke="#3a8a48" stroke-width="1.8"/>
<circle cx="598.5" cy="502.5" r="2.1" fill="#fff" fill-opacity="0.6" stroke="#3a8a48" stroke-width="1.8"/>
<circle cx="602.5" cy="505" r="2.1" fill="#fff" fill-opacity="0.6" stroke="#3a8a48" stroke-width="1.8"/>
<circle cx="608" cy="505.4" r="2.1" fill="#fff" fill-opacity="0.6" stroke="#3a8a48" stroke-width="1.8"/>
<circle cx="613.5" cy="503.3" r="2.1" fill="#fff" fill-opacity="0.6" stroke="#3a8a48" stroke-width="1.8"/>
<circle cx="618" cy="502" r="2.1" fill="#fff" fill-opacity="0.6" stroke="#3a8a48" stroke-width="1.8"/>
<path d="M537 437.5 V431.5 H567.5 V437.5" fill="none" stroke="#141414" stroke-width="1.4"/>
<path d="M570.2 437.5 V431.5 H607.4 V437.5" fill="none" stroke="#141414" stroke-width="1.4"/>
<path d="M553.20 422.50 L553.20 427.50 M551.03 423.75 L555.37 426.25 M555.37 423.75 L551.03 426.25 " stroke="#888" stroke-width="1.6" fill="none"/>
<path d="M588.20 422.90 L587.60 428.70 M590.60 422.90 L590.00 428.70 M586.40 424.70 H591.80 M586.40 426.90 H591.80" stroke="#555" stroke-width="1.15" fill="none"/>
<text x="489.82" y="489" font-size="11.75" text-anchor="middle" style="font-family:'Liberation Serif',serif;font-weight:bold" fill="#1e1e1e" transform="rotate(-90 489.82 489)">Sucrose preference (%)</text>
<text x="537.2" y="556" font-size="12" text-anchor="end" style="font-family:'Liberation Serif',serif;font-weight:bold" fill="#1e1e1e" transform="rotate(-45 537.2 556)">Vehicle</text>
<text x="573.2" y="556" font-size="12" text-anchor="end" style="font-family:'Liberation Serif',serif;font-weight:bold" fill="#1e1e1e" transform="rotate(-45 573.2 556)">Vehicle</text>
<text x="607.8" y="558" font-size="12" text-anchor="end" style="font-family:'Liberation Serif',serif;font-weight:bold" fill="#1e1e1e" transform="rotate(-45 607.8 558)">SB203580</text>
<line x1="514.4" y1="594.5" x2="539.1" y2="594.5" stroke="#141414" stroke-width="1.3"/>
<line x1="553.2" y1="594.5" x2="623.5" y2="594.5" stroke="#141414" stroke-width="1.3"/>
<text x="0" y="0" font-size="11.6" text-anchor="middle" style="font-family:'Liberation Serif',serif;font-weight:bold" fill="#1e1e1e" transform="translate(526.6 612.5) scale(1 1.12)">Vehicle</text>
<text x="0" y="0" font-size="11.6" text-anchor="middle" style="font-family:'Liberation Serif',serif;font-weight:bold" fill="#1e1e1e" transform="translate(588.4 612.5) scale(1 1.12)">U50488</text>
</g></svg></body></html>
